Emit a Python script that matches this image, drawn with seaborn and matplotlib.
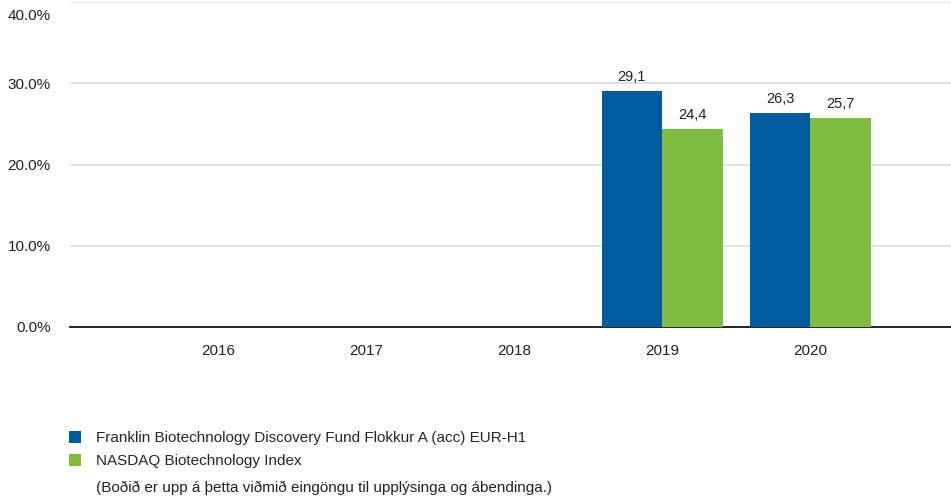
import pandas as pd
import numpy as np

import matplotlib.pyplot as plt
import matplotlib.transforms as mtransforms
import seaborn as sns

# ============================================================
# DATA
# ============================================================

years = ["2016", "2017", "2018", "2019", "2020"]

fund_name = "Franklin Biotechnology Discovery Fund Flokkur A (acc) EUR-H1"
index_name = "NASDAQ Biotechnology Index"

fund_years = ["2019", "2020"]
fund_values = [29.1, 26.3]

index_years = ["2019", "2020"]
index_values = [24.4, 25.7]

y_ticks = [0, 10, 20, 30, 40]

note_text = "(Boðið er upp á þetta viðmið eingöngu til upplýsinga og ábendinga.)"

df = pd.concat([
    pd.DataFrame({"year": fund_years, "value": fund_values, "series": fund_name}),
    pd.DataFrame({"year": index_years, "value": index_values, "series": index_name}),
])

# ============================================================
# STYLE
# ============================================================

sns.set_style("white")
plt.rcParams["font.family"] = ["Liberation Sans", "DejaVu Sans"]

palette = {fund_name: "#005B9F", index_name: "#80BC41"}
text_color = "#222222"

fig = plt.figure(figsize=(9.51, 5.0), dpi=100)
ax = fig.add_axes([70 / 951, 1 - 327 / 500, 881 / 951, 325 / 500])

sns.barplot(
    data=df,
    x="year",
    y="value",
    hue="series",
    order=years,
    hue_order=[fund_name, index_name],
    palette=palette,
    width=0.82,
    saturation=1,
    errorbar=None,
    linewidth=0,
    ax=ax,
    zorder=3,
)

# ============================================================
# BAR LABELS
# ============================================================

for container in ax.containers:
    ax.bar_label(
        container,
        labels=[f"{v:.1f}".replace(".", ",") for v in container.datavalues],
        padding=5,
        fontsize=10.5,
        color=text_color,
    )

# ============================================================
# AXES
# ============================================================

ax.set_ylim(0, 40)
ax.set_xlim(-1.0, 4.95)
ax.set_yticks(y_ticks)
ax.set_yticklabels([f"{t:.1f}%" for t in y_ticks])
ax.set_xlabel("")
ax.set_ylabel("")

ax.yaxis.grid(True, color="#dddddd", linewidth=1.2, zorder=0)
ax.xaxis.grid(False)

for side in ["top", "right", "left"]:
    ax.spines[side].set_visible(False)
ax.spines["bottom"].set_color("#111111")
ax.spines["bottom"].set_linewidth(1.3)

ax.tick_params(axis="y", length=0, pad=14, labelsize=11, labelcolor=text_color)
ax.tick_params(axis="x", length=0, pad=12, labelsize=11, labelcolor=text_color)

# push the top tick label down so it stays inside the figure
top_label = ax.get_yticklabels()[-1]
top_label.set_transform(
    top_label.get_transform()
    + mtransforms.ScaledTranslation(0, -12 / 100, fig.dpi_scale_trans)
)

# ============================================================
# LEGEND
# ============================================================

handles, labels = ax.get_legend_handles_labels()
ax.get_legend().remove()

fig.legend(
    handles,
    labels,
    loc="upper left",
    bbox_to_anchor=(69 / 951, 1 - 431 / 500),
    frameon=False,
    fontsize=11,
    handlelength=0.8,
    handleheight=0.8,
    handletextpad=1.0,
    labelspacing=0.6,
    borderpad=0,
    borderaxespad=0,
)

fig.text(96 / 951, 1 - 488 / 500, note_text, fontsize=11, color=text_color,
         va="center", ha="left")

plt.savefig("out.png", dpi=100)
